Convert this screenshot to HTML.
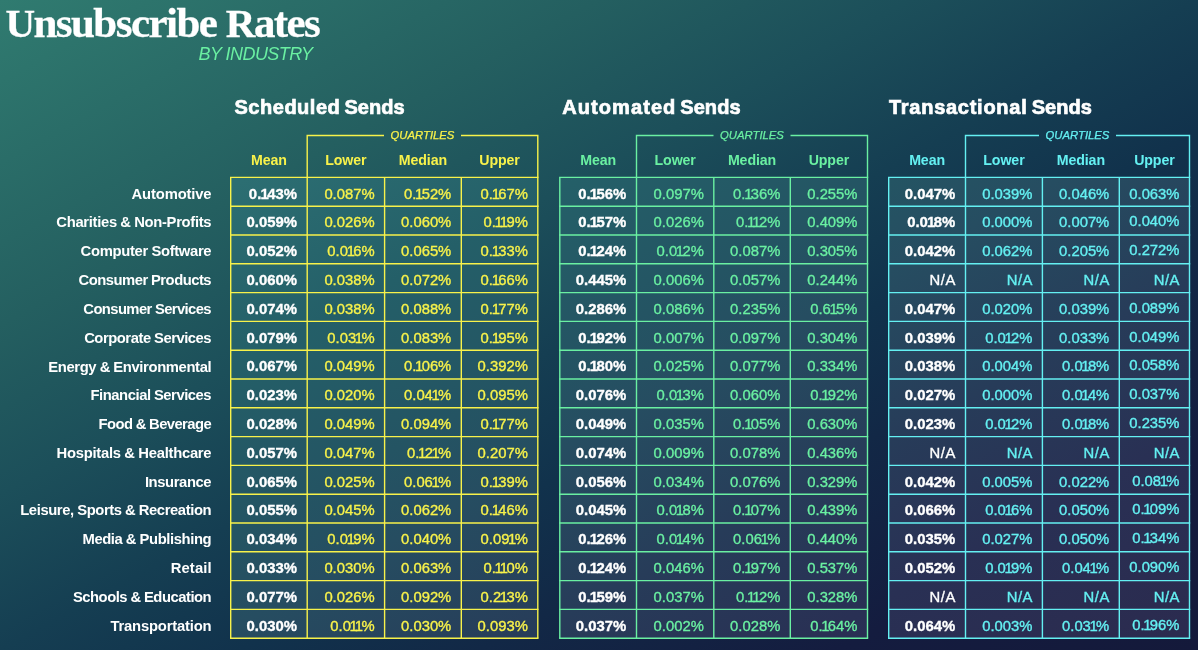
<!DOCTYPE html>
<html lang="en"><head><meta charset="utf-8"><title>Unsubscribe Rates by Industry</title>
<style>
html,body{margin:0;padding:0}
body{width:1198px;height:650px;overflow:hidden;position:relative;font-family:"Liberation Sans",sans-serif;color:#fff;
background:linear-gradient(to bottom right,rgb(48,123,112) 0%,rgb(36,95,96) 25%,rgb(28,79,90) 38%,rgb(21,62,82) 50%,rgb(17,50,76) 60%,rgb(18,40,70) 70%,rgb(20,28,63) 85%,rgb(20,25,58) 100%);}
.abs{position:absolute;white-space:nowrap}
h1{position:absolute;margin:0;left:5.4px;top:1.4px;font-family:"Liberation Serif",serif;font-weight:bold;font-size:43px;line-height:1;letter-spacing:0px;white-space:nowrap;transform-origin:0 0;transform:scaleX(1);-webkit-text-stroke:0.3px #fff;word-spacing:-1.2px}
.w1{letter-spacing:-1.55px} .w2{letter-spacing:-1.6px}
.cp{font-size:41px}
.sub{left:198.5px;top:44.5px;font-style:italic;font-size:18px;line-height:1;color:#6af0a2;letter-spacing:-0.55px}
.lab{word-spacing:-0.3px;right:986.4px;font-weight:bold;font-size:14.8px;line-height:28.8px;height:28.8px;letter-spacing:-0.15px}
.ttl{font-weight:bold;font-size:20px;line-height:1;top:97px;letter-spacing:0px;-webkit-text-stroke:0.7px #fff}
.hd{font-weight:bold;font-size:14.2px;line-height:1;top:153px;text-align:center;letter-spacing:-0.1px}
.q{-webkit-text-stroke:0.25px currentColor;font-style:italic;font-size:11.3px;line-height:1;top:129.5px;text-align:center;letter-spacing:0px}
.v{-webkit-text-stroke:0.35px currentColor;font-size:14.8px;line-height:28.8px;height:28.8px;text-align:right;letter-spacing:0px}
.m{font-weight:bold;font-size:14.9px;color:#fff;letter-spacing:0px}
.w{color:#fff} .na{letter-spacing:0.5px;margin-right:-0.5px} .o{margin:0 -1.7px 0 -1.3px}
.m .o{margin:0 -1.6px 0 -0.8px}
.y{color:#f8f24a} .g{color:#6af0a2} .c{color:#64f0f2}
svg{position:absolute;left:0;top:0}
</style></head><body>
<h1><span class="w1"><span class="cp">U</span>nsubscribe</span> <span class="w2"><span class="cp">R</span>ates</span></h1>
<div class="abs sub">BY INDUSTRY</div>

<svg width="1198" height="650" viewBox="0 0 1198 650" fill="none">
<defs><linearGradient id="cg" gradientUnits="userSpaceOnUse" x1="326.5" y1="-177.2" x2="871.5" y2="827.2"><stop offset="0.24" stop-color="rgb(44,110,114)"/><stop offset="0.38" stop-color="rgb(36,95,104)"/><stop offset="0.51" stop-color="rgb(36,84,99)"/><stop offset="0.58" stop-color="rgb(38,77,97)"/><stop offset="0.71" stop-color="rgb(39,60,89)"/><stop offset="0.83" stop-color="rgb(41,48,84)"/><stop offset="0.98" stop-color="rgb(43,43,79)"/></linearGradient></defs>
<rect x="230.7" y="177.4" width="307.09999999999997" height="460.80000000000007" fill="url(#cg)"/>
<g stroke="#f8f24a" stroke-width="1.4">
<line x1="230.0" y1="177.40" x2="538.5" y2="177.40"/>
<line x1="230.0" y1="206.20" x2="538.5" y2="206.20"/>
<line x1="230.0" y1="235.00" x2="538.5" y2="235.00"/>
<line x1="230.0" y1="263.80" x2="538.5" y2="263.80"/>
<line x1="230.0" y1="292.60" x2="538.5" y2="292.60"/>
<line x1="230.0" y1="321.40" x2="538.5" y2="321.40"/>
<line x1="230.0" y1="350.20" x2="538.5" y2="350.20"/>
<line x1="230.0" y1="379.00" x2="538.5" y2="379.00"/>
<line x1="230.0" y1="407.80" x2="538.5" y2="407.80"/>
<line x1="230.0" y1="436.60" x2="538.5" y2="436.60"/>
<line x1="230.0" y1="465.40" x2="538.5" y2="465.40"/>
<line x1="230.0" y1="494.20" x2="538.5" y2="494.20"/>
<line x1="230.0" y1="523.00" x2="538.5" y2="523.00"/>
<line x1="230.0" y1="551.80" x2="538.5" y2="551.80"/>
<line x1="230.0" y1="580.60" x2="538.5" y2="580.60"/>
<line x1="230.0" y1="609.40" x2="538.5" y2="609.40"/>
<line x1="230.0" y1="638.20" x2="538.5" y2="638.20"/>
<line x1="230.7" y1="177.4" x2="230.7" y2="638.2"/>
<line x1="307.2" y1="177.4" x2="307.2" y2="638.2"/>
<line x1="384.6" y1="177.4" x2="384.6" y2="638.2"/>
<line x1="461.3" y1="177.4" x2="461.3" y2="638.2"/>
<line x1="537.8" y1="177.4" x2="537.8" y2="638.2"/>
<polyline points="307.2,177.4 307.2,135.5 384.0,135.5"/>
<polyline points="461.0,135.5 537.8,135.5 537.8,177.4"/>
</g>
<rect x="559.8" y="177.4" width="307.70000000000005" height="460.80000000000007" fill="url(#cg)"/>
<g stroke="#6af0a2" stroke-width="1.4">
<line x1="559.0999999999999" y1="177.40" x2="868.2" y2="177.40"/>
<line x1="559.0999999999999" y1="206.20" x2="868.2" y2="206.20"/>
<line x1="559.0999999999999" y1="235.00" x2="868.2" y2="235.00"/>
<line x1="559.0999999999999" y1="263.80" x2="868.2" y2="263.80"/>
<line x1="559.0999999999999" y1="292.60" x2="868.2" y2="292.60"/>
<line x1="559.0999999999999" y1="321.40" x2="868.2" y2="321.40"/>
<line x1="559.0999999999999" y1="350.20" x2="868.2" y2="350.20"/>
<line x1="559.0999999999999" y1="379.00" x2="868.2" y2="379.00"/>
<line x1="559.0999999999999" y1="407.80" x2="868.2" y2="407.80"/>
<line x1="559.0999999999999" y1="436.60" x2="868.2" y2="436.60"/>
<line x1="559.0999999999999" y1="465.40" x2="868.2" y2="465.40"/>
<line x1="559.0999999999999" y1="494.20" x2="868.2" y2="494.20"/>
<line x1="559.0999999999999" y1="523.00" x2="868.2" y2="523.00"/>
<line x1="559.0999999999999" y1="551.80" x2="868.2" y2="551.80"/>
<line x1="559.0999999999999" y1="580.60" x2="868.2" y2="580.60"/>
<line x1="559.0999999999999" y1="609.40" x2="868.2" y2="609.40"/>
<line x1="559.0999999999999" y1="638.20" x2="868.2" y2="638.20"/>
<line x1="559.8" y1="177.4" x2="559.8" y2="638.2"/>
<line x1="636.5" y1="177.4" x2="636.5" y2="638.2"/>
<line x1="713.8" y1="177.4" x2="713.8" y2="638.2"/>
<line x1="790.3" y1="177.4" x2="790.3" y2="638.2"/>
<line x1="867.5" y1="177.4" x2="867.5" y2="638.2"/>
<polyline points="636.5,177.4 636.5,135.5 713.5,135.5"/>
<polyline points="790.5,135.5 867.5,135.5 867.5,177.4"/>
</g>
<rect x="888.7" y="177.4" width="300.79999999999995" height="460.80000000000007" fill="url(#cg)"/>
<g stroke="#64f0f2" stroke-width="1.4">
<line x1="888.0" y1="177.40" x2="1190.2" y2="177.40"/>
<line x1="888.0" y1="206.20" x2="1190.2" y2="206.20"/>
<line x1="888.0" y1="235.00" x2="1190.2" y2="235.00"/>
<line x1="888.0" y1="263.80" x2="1190.2" y2="263.80"/>
<line x1="888.0" y1="292.60" x2="1190.2" y2="292.60"/>
<line x1="888.0" y1="321.40" x2="1190.2" y2="321.40"/>
<line x1="888.0" y1="350.20" x2="1190.2" y2="350.20"/>
<line x1="888.0" y1="379.00" x2="1190.2" y2="379.00"/>
<line x1="888.0" y1="407.80" x2="1190.2" y2="407.80"/>
<line x1="888.0" y1="436.60" x2="1190.2" y2="436.60"/>
<line x1="888.0" y1="465.40" x2="1190.2" y2="465.40"/>
<line x1="888.0" y1="494.20" x2="1190.2" y2="494.20"/>
<line x1="888.0" y1="523.00" x2="1190.2" y2="523.00"/>
<line x1="888.0" y1="551.80" x2="1190.2" y2="551.80"/>
<line x1="888.0" y1="580.60" x2="1190.2" y2="580.60"/>
<line x1="888.0" y1="609.40" x2="1190.2" y2="609.40"/>
<line x1="888.0" y1="638.20" x2="1190.2" y2="638.20"/>
<line x1="888.7" y1="177.4" x2="888.7" y2="638.2"/>
<line x1="965.5" y1="177.4" x2="965.5" y2="638.2"/>
<line x1="1042.4" y1="177.4" x2="1042.4" y2="638.2"/>
<line x1="1119.3" y1="177.4" x2="1119.3" y2="638.2"/>
<line x1="1189.5" y1="177.4" x2="1189.5" y2="638.2"/>
<polyline points="965.5,177.4 965.5,135.5 1039.0,135.5"/>
<polyline points="1116.0,135.5 1189.5,135.5 1189.5,177.4"/>
</g>
</svg>
<div class="abs lab" style="top:180.40px;letter-spacing:-0.150px;right:986.55px">Automotive</div>
<div class="abs lab" style="top:208.10px;letter-spacing:-0.314px;right:986.71px">Charities &amp; Non-Profits</div>
<div class="abs lab" style="top:237.10px;letter-spacing:-0.324px;right:986.72px">Computer Software</div>
<div class="abs lab" style="top:266.20px;letter-spacing:-0.501px;right:986.90px">Consumer Products</div>
<div class="abs lab" style="top:295.40px;letter-spacing:-0.599px;right:987.00px">Consumer Services</div>
<div class="abs lab" style="top:324.00px;letter-spacing:-0.467px;right:986.87px">Corporate Services</div>
<div class="abs lab" style="top:352.50px;letter-spacing:-0.379px;right:986.78px">Energy &amp; Environmental</div>
<div class="abs lab" style="top:381.10px;letter-spacing:-0.457px;right:986.86px">Financial Services</div>
<div class="abs lab" style="top:410.40px;letter-spacing:-0.578px;right:986.98px">Food &amp; Beverage</div>
<div class="abs lab" style="top:439.20px;letter-spacing:-0.264px;right:986.66px">Hospitals &amp; Healthcare</div>
<div class="abs lab" style="top:468.00px;letter-spacing:-0.400px;right:986.80px">Insurance</div>
<div class="abs lab" style="top:496.20px;letter-spacing:-0.401px;right:986.80px">Leisure, Sports &amp; Recreation</div>
<div class="abs lab" style="top:525.10px;letter-spacing:-0.397px;right:986.80px">Media &amp; Publishing</div>
<div class="abs lab" style="top:554.30px;letter-spacing:0.130px;right:986.27px">Retail</div>
<div class="abs lab" style="top:583.10px;letter-spacing:-0.484px;right:986.88px">Schools &amp; Education</div>
<div class="abs lab" style="top:612.30px;letter-spacing:-0.182px;right:986.58px">Transportation</div>
<div class="abs ttl" style="left:234.5px"><span style="letter-spacing:0.52px">Scheduled</span> <span style="position:absolute;top:0;left:109.9px;letter-spacing:0.05px">Sends</span></div>
<div class="abs q y" style="left:372.5px;width:100px">QUARTILES</div>
<div class="abs hd y" style="left:230.7px;width:76.5px">Mean</div>
<div class="abs hd y" style="left:307.2px;width:77.40000000000003px">Lower</div>
<div class="abs hd y" style="left:384.6px;width:76.69999999999999px">Median</div>
<div class="abs hd y" style="left:461.3px;width:76.49999999999994px">Upper</div>
<div class="abs v m" style="left:230.7px;width:66.3px;top:180.20px">0.<span class="o">1</span>43%</div>
<div class="abs v y" style="left:307.2px;width:67.40000000000003px;top:180.20px">0.087%</div>
<div class="abs v y" style="left:384.6px;width:66.69999999999999px;top:180.20px">0.<span class="o">1</span>52%</div>
<div class="abs v y" style="left:461.3px;width:66.49999999999994px;top:180.20px">0.<span class="o">1</span>67%</div>
<div class="abs v m" style="left:230.7px;width:66.3px;top:207.90px">0.059%</div>
<div class="abs v y" style="left:307.2px;width:67.40000000000003px;top:207.90px">0.026%</div>
<div class="abs v y" style="left:384.6px;width:66.69999999999999px;top:207.90px">0.060%</div>
<div class="abs v y" style="left:461.3px;width:66.49999999999994px;top:207.90px">0.<span class="o">1</span><span class="o">1</span>9%</div>
<div class="abs v m" style="left:230.7px;width:66.3px;top:236.90px">0.052%</div>
<div class="abs v y" style="left:307.2px;width:67.40000000000003px;top:236.90px">0.0<span class="o">1</span>6%</div>
<div class="abs v y" style="left:384.6px;width:66.69999999999999px;top:236.90px">0.065%</div>
<div class="abs v y" style="left:461.3px;width:66.49999999999994px;top:236.90px">0.<span class="o">1</span>33%</div>
<div class="abs v m" style="left:230.7px;width:66.3px;top:266.00px">0.060%</div>
<div class="abs v y" style="left:307.2px;width:67.40000000000003px;top:266.00px">0.038%</div>
<div class="abs v y" style="left:384.6px;width:66.69999999999999px;top:266.00px">0.072%</div>
<div class="abs v y" style="left:461.3px;width:66.49999999999994px;top:266.00px">0.<span class="o">1</span>66%</div>
<div class="abs v m" style="left:230.7px;width:66.3px;top:295.20px">0.074%</div>
<div class="abs v y" style="left:307.2px;width:67.40000000000003px;top:295.20px">0.038%</div>
<div class="abs v y" style="left:384.6px;width:66.69999999999999px;top:295.20px">0.088%</div>
<div class="abs v y" style="left:461.3px;width:66.49999999999994px;top:295.20px">0.<span class="o">1</span>77%</div>
<div class="abs v m" style="left:230.7px;width:66.3px;top:323.80px">0.079%</div>
<div class="abs v y" style="left:307.2px;width:67.40000000000003px;top:323.80px">0.03<span class="o">1</span>%</div>
<div class="abs v y" style="left:384.6px;width:66.69999999999999px;top:323.80px">0.083%</div>
<div class="abs v y" style="left:461.3px;width:66.49999999999994px;top:323.80px">0.<span class="o">1</span>95%</div>
<div class="abs v m" style="left:230.7px;width:66.3px;top:352.30px">0.067%</div>
<div class="abs v y" style="left:307.2px;width:67.40000000000003px;top:352.30px">0.049%</div>
<div class="abs v y" style="left:384.6px;width:66.69999999999999px;top:352.30px">0.<span class="o">1</span>06%</div>
<div class="abs v y" style="left:461.3px;width:66.49999999999994px;top:352.30px">0.392%</div>
<div class="abs v m" style="left:230.7px;width:66.3px;top:380.90px">0.023%</div>
<div class="abs v y" style="left:307.2px;width:67.40000000000003px;top:380.90px">0.020%</div>
<div class="abs v y" style="left:384.6px;width:66.69999999999999px;top:380.90px">0.04<span class="o">1</span>%</div>
<div class="abs v y" style="left:461.3px;width:66.49999999999994px;top:380.90px">0.095%</div>
<div class="abs v m" style="left:230.7px;width:66.3px;top:410.20px">0.028%</div>
<div class="abs v y" style="left:307.2px;width:67.40000000000003px;top:410.20px">0.049%</div>
<div class="abs v y" style="left:384.6px;width:66.69999999999999px;top:410.20px">0.094%</div>
<div class="abs v y" style="left:461.3px;width:66.49999999999994px;top:410.20px">0.<span class="o">1</span>77%</div>
<div class="abs v m" style="left:230.7px;width:66.3px;top:439.00px">0.057%</div>
<div class="abs v y" style="left:307.2px;width:67.40000000000003px;top:439.00px">0.047%</div>
<div class="abs v y" style="left:384.6px;width:66.69999999999999px;top:439.00px">0.<span class="o">1</span>2<span class="o">1</span>%</div>
<div class="abs v y" style="left:461.3px;width:66.49999999999994px;top:439.00px">0.207%</div>
<div class="abs v m" style="left:230.7px;width:66.3px;top:467.80px">0.065%</div>
<div class="abs v y" style="left:307.2px;width:67.40000000000003px;top:467.80px">0.025%</div>
<div class="abs v y" style="left:384.6px;width:66.69999999999999px;top:467.80px">0.06<span class="o">1</span>%</div>
<div class="abs v y" style="left:461.3px;width:66.49999999999994px;top:467.80px">0.<span class="o">1</span>39%</div>
<div class="abs v m" style="left:230.7px;width:66.3px;top:496.00px">0.055%</div>
<div class="abs v y" style="left:307.2px;width:67.40000000000003px;top:496.00px">0.045%</div>
<div class="abs v y" style="left:384.6px;width:66.69999999999999px;top:496.00px">0.062%</div>
<div class="abs v y" style="left:461.3px;width:66.49999999999994px;top:496.00px">0.<span class="o">1</span>46%</div>
<div class="abs v m" style="left:230.7px;width:66.3px;top:524.90px">0.034%</div>
<div class="abs v y" style="left:307.2px;width:67.40000000000003px;top:524.90px">0.0<span class="o">1</span>9%</div>
<div class="abs v y" style="left:384.6px;width:66.69999999999999px;top:524.90px">0.040%</div>
<div class="abs v y" style="left:461.3px;width:66.49999999999994px;top:524.90px">0.09<span class="o">1</span>%</div>
<div class="abs v m" style="left:230.7px;width:66.3px;top:554.10px">0.033%</div>
<div class="abs v y" style="left:307.2px;width:67.40000000000003px;top:554.10px">0.030%</div>
<div class="abs v y" style="left:384.6px;width:66.69999999999999px;top:554.10px">0.063%</div>
<div class="abs v y" style="left:461.3px;width:66.49999999999994px;top:554.10px">0.<span class="o">1</span><span class="o">1</span>0%</div>
<div class="abs v m" style="left:230.7px;width:66.3px;top:582.90px">0.077%</div>
<div class="abs v y" style="left:307.2px;width:67.40000000000003px;top:582.90px">0.026%</div>
<div class="abs v y" style="left:384.6px;width:66.69999999999999px;top:582.90px">0.092%</div>
<div class="abs v y" style="left:461.3px;width:66.49999999999994px;top:582.90px">0.2<span class="o">1</span>3%</div>
<div class="abs v m" style="left:230.7px;width:66.3px;top:612.10px">0.030%</div>
<div class="abs v y" style="left:307.2px;width:67.40000000000003px;top:612.10px">0.0<span class="o">1</span><span class="o">1</span>%</div>
<div class="abs v y" style="left:384.6px;width:66.69999999999999px;top:612.10px">0.030%</div>
<div class="abs v y" style="left:461.3px;width:66.49999999999994px;top:612.10px">0.093%</div>
<div class="abs ttl" style="left:562.3px"><span style="letter-spacing:1.07px">Automated</span> <span style="position:absolute;top:0;left:118.0px;letter-spacing:0.05px">Sends</span></div>
<div class="abs q g" style="left:702.0px;width:100px">QUARTILES</div>
<div class="abs hd g" style="left:559.8px;width:76.70000000000005px">Mean</div>
<div class="abs hd g" style="left:636.5px;width:77.29999999999995px">Lower</div>
<div class="abs hd g" style="left:713.8px;width:76.5px">Median</div>
<div class="abs hd g" style="left:790.3px;width:77.20000000000005px">Upper</div>
<div class="abs v m" style="left:559.8px;width:66.50000000000004px;top:180.20px">0.<span class="o">1</span>56%</div>
<div class="abs v g" style="left:636.5px;width:67.29999999999995px;top:180.20px">0.097%</div>
<div class="abs v g" style="left:713.8px;width:66.5px;top:180.20px">0.<span class="o">1</span>36%</div>
<div class="abs v g" style="left:790.3px;width:67.20000000000005px;top:180.20px">0.255%</div>
<div class="abs v m" style="left:559.8px;width:66.50000000000004px;top:207.90px">0.<span class="o">1</span>57%</div>
<div class="abs v g" style="left:636.5px;width:67.29999999999995px;top:207.90px">0.026%</div>
<div class="abs v g" style="left:713.8px;width:66.5px;top:207.90px">0.<span class="o">1</span><span class="o">1</span>2%</div>
<div class="abs v g" style="left:790.3px;width:67.20000000000005px;top:207.90px">0.409%</div>
<div class="abs v m" style="left:559.8px;width:66.50000000000004px;top:236.90px">0.<span class="o">1</span>24%</div>
<div class="abs v g" style="left:636.5px;width:67.29999999999995px;top:236.90px">0.0<span class="o">1</span>2%</div>
<div class="abs v g" style="left:713.8px;width:66.5px;top:236.90px">0.087%</div>
<div class="abs v g" style="left:790.3px;width:67.20000000000005px;top:236.90px">0.305%</div>
<div class="abs v m" style="left:559.8px;width:66.50000000000004px;top:266.00px">0.445%</div>
<div class="abs v g" style="left:636.5px;width:67.29999999999995px;top:266.00px">0.006%</div>
<div class="abs v g" style="left:713.8px;width:66.5px;top:266.00px">0.057%</div>
<div class="abs v g" style="left:790.3px;width:67.20000000000005px;top:266.00px">0.244%</div>
<div class="abs v m" style="left:559.8px;width:66.50000000000004px;top:295.20px">0.286%</div>
<div class="abs v g" style="left:636.5px;width:67.29999999999995px;top:295.20px">0.086%</div>
<div class="abs v g" style="left:713.8px;width:66.5px;top:295.20px">0.235%</div>
<div class="abs v g" style="left:790.3px;width:67.20000000000005px;top:295.20px">0.6<span class="o">1</span>5%</div>
<div class="abs v m" style="left:559.8px;width:66.50000000000004px;top:323.80px">0.<span class="o">1</span>92%</div>
<div class="abs v g" style="left:636.5px;width:67.29999999999995px;top:323.80px">0.007%</div>
<div class="abs v g" style="left:713.8px;width:66.5px;top:323.80px">0.097%</div>
<div class="abs v g" style="left:790.3px;width:67.20000000000005px;top:323.80px">0.304%</div>
<div class="abs v m" style="left:559.8px;width:66.50000000000004px;top:352.30px">0.<span class="o">1</span>80%</div>
<div class="abs v g" style="left:636.5px;width:67.29999999999995px;top:352.30px">0.025%</div>
<div class="abs v g" style="left:713.8px;width:66.5px;top:352.30px">0.077%</div>
<div class="abs v g" style="left:790.3px;width:67.20000000000005px;top:352.30px">0.334%</div>
<div class="abs v m" style="left:559.8px;width:66.50000000000004px;top:380.90px">0.076%</div>
<div class="abs v g" style="left:636.5px;width:67.29999999999995px;top:380.90px">0.0<span class="o">1</span>3%</div>
<div class="abs v g" style="left:713.8px;width:66.5px;top:380.90px">0.060%</div>
<div class="abs v g" style="left:790.3px;width:67.20000000000005px;top:380.90px">0.<span class="o">1</span>92%</div>
<div class="abs v m" style="left:559.8px;width:66.50000000000004px;top:410.20px">0.049%</div>
<div class="abs v g" style="left:636.5px;width:67.29999999999995px;top:410.20px">0.035%</div>
<div class="abs v g" style="left:713.8px;width:66.5px;top:410.20px">0.<span class="o">1</span>05%</div>
<div class="abs v g" style="left:790.3px;width:67.20000000000005px;top:410.20px">0.630%</div>
<div class="abs v m" style="left:559.8px;width:66.50000000000004px;top:439.00px">0.074%</div>
<div class="abs v g" style="left:636.5px;width:67.29999999999995px;top:439.00px">0.009%</div>
<div class="abs v g" style="left:713.8px;width:66.5px;top:439.00px">0.078%</div>
<div class="abs v g" style="left:790.3px;width:67.20000000000005px;top:439.00px">0.436%</div>
<div class="abs v m" style="left:559.8px;width:66.50000000000004px;top:467.80px">0.056%</div>
<div class="abs v g" style="left:636.5px;width:67.29999999999995px;top:467.80px">0.034%</div>
<div class="abs v g" style="left:713.8px;width:66.5px;top:467.80px">0.076%</div>
<div class="abs v g" style="left:790.3px;width:67.20000000000005px;top:467.80px">0.329%</div>
<div class="abs v m" style="left:559.8px;width:66.50000000000004px;top:496.00px">0.045%</div>
<div class="abs v g" style="left:636.5px;width:67.29999999999995px;top:496.00px">0.0<span class="o">1</span>8%</div>
<div class="abs v g" style="left:713.8px;width:66.5px;top:496.00px">0.<span class="o">1</span>07%</div>
<div class="abs v g" style="left:790.3px;width:67.20000000000005px;top:496.00px">0.439%</div>
<div class="abs v m" style="left:559.8px;width:66.50000000000004px;top:524.90px">0.<span class="o">1</span>26%</div>
<div class="abs v g" style="left:636.5px;width:67.29999999999995px;top:524.90px">0.0<span class="o">1</span>4%</div>
<div class="abs v g" style="left:713.8px;width:66.5px;top:524.90px">0.06<span class="o">1</span>%</div>
<div class="abs v g" style="left:790.3px;width:67.20000000000005px;top:524.90px">0.440%</div>
<div class="abs v m" style="left:559.8px;width:66.50000000000004px;top:554.10px">0.<span class="o">1</span>24%</div>
<div class="abs v g" style="left:636.5px;width:67.29999999999995px;top:554.10px">0.046%</div>
<div class="abs v g" style="left:713.8px;width:66.5px;top:554.10px">0.<span class="o">1</span>97%</div>
<div class="abs v g" style="left:790.3px;width:67.20000000000005px;top:554.10px">0.537%</div>
<div class="abs v m" style="left:559.8px;width:66.50000000000004px;top:582.90px">0.<span class="o">1</span>59%</div>
<div class="abs v g" style="left:636.5px;width:67.29999999999995px;top:582.90px">0.037%</div>
<div class="abs v g" style="left:713.8px;width:66.5px;top:582.90px">0.<span class="o">1</span><span class="o">1</span>2%</div>
<div class="abs v g" style="left:790.3px;width:67.20000000000005px;top:582.90px">0.328%</div>
<div class="abs v m" style="left:559.8px;width:66.50000000000004px;top:612.10px">0.037%</div>
<div class="abs v g" style="left:636.5px;width:67.29999999999995px;top:612.10px">0.002%</div>
<div class="abs v g" style="left:713.8px;width:66.5px;top:612.10px">0.028%</div>
<div class="abs v g" style="left:790.3px;width:67.20000000000005px;top:612.10px">0.<span class="o">1</span>64%</div>
<div class="abs ttl" style="left:889px"><span style="letter-spacing:0.73px">Transactional</span> <span style="position:absolute;top:0;left:142.7px;letter-spacing:0.05px">Sends</span></div>
<div class="abs q c" style="left:1027.5px;width:100px">QUARTILES</div>
<div class="abs hd c" style="left:888.7px;width:76.79999999999995px">Mean</div>
<div class="abs hd c" style="left:965.5px;width:76.90000000000009px">Lower</div>
<div class="abs hd c" style="left:1042.4px;width:76.89999999999986px">Median</div>
<div class="abs hd c" style="left:1119.3px;width:70.20000000000005px">Upper</div>
<div class="abs v m" style="left:888.7px;width:66.59999999999995px;top:180.20px">0.047%</div>
<div class="abs v c" style="left:965.5px;width:66.90000000000009px;top:180.20px">0.039%</div>
<div class="abs v c" style="left:1042.4px;width:66.89999999999986px;top:180.20px">0.046%</div>
<div class="abs v c" style="left:1119.3px;width:60.200000000000045px;top:179.70px">0.063%</div>
<div class="abs v m" style="left:888.7px;width:66.59999999999995px;top:207.90px">0.0<span class="o">1</span>8%</div>
<div class="abs v c" style="left:965.5px;width:66.90000000000009px;top:207.90px">0.000%</div>
<div class="abs v c" style="left:1042.4px;width:66.89999999999986px;top:207.90px">0.007%</div>
<div class="abs v c" style="left:1119.3px;width:60.200000000000045px;top:207.33px">0.040%</div>
<div class="abs v m" style="left:888.7px;width:66.59999999999995px;top:236.90px">0.042%</div>
<div class="abs v c" style="left:965.5px;width:66.90000000000009px;top:236.90px">0.062%</div>
<div class="abs v c" style="left:1042.4px;width:66.89999999999986px;top:236.90px">0.205%</div>
<div class="abs v c" style="left:1119.3px;width:60.200000000000045px;top:236.26px">0.272%</div>
<div class="abs v w" style="left:888.7px;width:66.59999999999995px;top:266.00px"><span class="na">N/A</span></div>
<div class="abs v c" style="left:965.5px;width:66.90000000000009px;top:266.00px"><span class="na">N/A</span></div>
<div class="abs v c" style="left:1042.4px;width:66.89999999999986px;top:266.00px"><span class="na">N/A</span></div>
<div class="abs v c" style="left:1119.3px;width:60.200000000000045px;top:266.00px"><span class="na">N/A</span></div>
<div class="abs v m" style="left:888.7px;width:66.59999999999995px;top:295.20px">0.047%</div>
<div class="abs v c" style="left:965.5px;width:66.90000000000009px;top:295.20px">0.020%</div>
<div class="abs v c" style="left:1042.4px;width:66.89999999999986px;top:295.20px">0.039%</div>
<div class="abs v c" style="left:1119.3px;width:60.200000000000045px;top:294.42px">0.089%</div>
<div class="abs v m" style="left:888.7px;width:66.59999999999995px;top:323.80px">0.039%</div>
<div class="abs v c" style="left:965.5px;width:66.90000000000009px;top:323.80px">0.0<span class="o">1</span>2%</div>
<div class="abs v c" style="left:1042.4px;width:66.89999999999986px;top:323.80px">0.033%</div>
<div class="abs v c" style="left:1119.3px;width:60.200000000000045px;top:322.95px">0.049%</div>
<div class="abs v m" style="left:888.7px;width:66.59999999999995px;top:352.30px">0.038%</div>
<div class="abs v c" style="left:965.5px;width:66.90000000000009px;top:352.30px">0.004%</div>
<div class="abs v c" style="left:1042.4px;width:66.89999999999986px;top:352.30px">0.0<span class="o">1</span>8%</div>
<div class="abs v c" style="left:1119.3px;width:60.200000000000045px;top:351.38px">0.058%</div>
<div class="abs v m" style="left:888.7px;width:66.59999999999995px;top:380.90px">0.027%</div>
<div class="abs v c" style="left:965.5px;width:66.90000000000009px;top:380.90px">0.000%</div>
<div class="abs v c" style="left:1042.4px;width:66.89999999999986px;top:380.90px">0.0<span class="o">1</span>4%</div>
<div class="abs v c" style="left:1119.3px;width:60.200000000000045px;top:379.91px">0.037%</div>
<div class="abs v m" style="left:888.7px;width:66.59999999999995px;top:410.20px">0.023%</div>
<div class="abs v c" style="left:965.5px;width:66.90000000000009px;top:410.20px">0.0<span class="o">1</span>2%</div>
<div class="abs v c" style="left:1042.4px;width:66.89999999999986px;top:410.20px">0.0<span class="o">1</span>8%</div>
<div class="abs v c" style="left:1119.3px;width:60.200000000000045px;top:409.14px">0.235%</div>
<div class="abs v w" style="left:888.7px;width:66.59999999999995px;top:439.00px"><span class="na">N/A</span></div>
<div class="abs v c" style="left:965.5px;width:66.90000000000009px;top:439.00px"><span class="na">N/A</span></div>
<div class="abs v c" style="left:1042.4px;width:66.89999999999986px;top:439.00px"><span class="na">N/A</span></div>
<div class="abs v c" style="left:1119.3px;width:60.200000000000045px;top:439.00px"><span class="na">N/A</span></div>
<div class="abs v m" style="left:888.7px;width:66.59999999999995px;top:467.80px">0.042%</div>
<div class="abs v c" style="left:965.5px;width:66.90000000000009px;top:467.80px">0.005%</div>
<div class="abs v c" style="left:1042.4px;width:66.89999999999986px;top:467.80px">0.022%</div>
<div class="abs v c" style="left:1119.3px;width:60.200000000000045px;top:466.60px">0.08<span class="o">1</span>%</div>
<div class="abs v m" style="left:888.7px;width:66.59999999999995px;top:496.00px">0.066%</div>
<div class="abs v c" style="left:965.5px;width:66.90000000000009px;top:496.00px">0.0<span class="o">1</span>6%</div>
<div class="abs v c" style="left:1042.4px;width:66.89999999999986px;top:496.00px">0.050%</div>
<div class="abs v c" style="left:1119.3px;width:60.200000000000045px;top:494.73px">0.<span class="o">1</span>09%</div>
<div class="abs v m" style="left:888.7px;width:66.59999999999995px;top:524.90px">0.035%</div>
<div class="abs v c" style="left:965.5px;width:66.90000000000009px;top:524.90px">0.027%</div>
<div class="abs v c" style="left:1042.4px;width:66.89999999999986px;top:524.90px">0.050%</div>
<div class="abs v c" style="left:1119.3px;width:60.200000000000045px;top:523.56px">0.<span class="o">1</span>34%</div>
<div class="abs v m" style="left:888.7px;width:66.59999999999995px;top:554.10px">0.052%</div>
<div class="abs v c" style="left:965.5px;width:66.90000000000009px;top:554.10px">0.0<span class="o">1</span>9%</div>
<div class="abs v c" style="left:1042.4px;width:66.89999999999986px;top:554.10px">0.04<span class="o">1</span>%</div>
<div class="abs v c" style="left:1119.3px;width:60.200000000000045px;top:552.69px">0.090%</div>
<div class="abs v w" style="left:888.7px;width:66.59999999999995px;top:582.90px"><span class="na">N/A</span></div>
<div class="abs v c" style="left:965.5px;width:66.90000000000009px;top:582.90px"><span class="na">N/A</span></div>
<div class="abs v c" style="left:1042.4px;width:66.89999999999986px;top:582.90px"><span class="na">N/A</span></div>
<div class="abs v c" style="left:1119.3px;width:60.200000000000045px;top:582.90px"><span class="na">N/A</span></div>
<div class="abs v m" style="left:888.7px;width:66.59999999999995px;top:612.10px">0.064%</div>
<div class="abs v c" style="left:965.5px;width:66.90000000000009px;top:612.10px">0.003%</div>
<div class="abs v c" style="left:1042.4px;width:66.89999999999986px;top:612.10px">0.03<span class="o">1</span>%</div>
<div class="abs v c" style="left:1119.3px;width:60.200000000000045px;top:610.55px">0.<span class="o">1</span>96%</div>
</body></html>
